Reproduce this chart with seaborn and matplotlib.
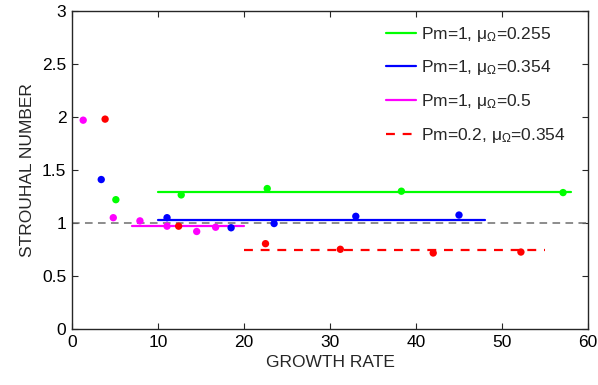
import matplotlib
matplotlib.use("Agg")
import matplotlib.pyplot as plt
import seaborn as sns
import pandas as pd

# Simulation runs: growth rate vs. Strouhal number
green_x = [5.1, 12.7, 22.7, 38.3, 57.1]
green_y = [1.22, 1.265, 1.325, 1.30, 1.287]
blue_x = [3.4, 11.05, 18.5, 23.5, 33.0, 45.0]
blue_y = [1.41, 1.05, 0.955, 0.995, 1.063, 1.075]
magenta_x = [1.3, 4.8, 7.9, 11.05, 14.5, 16.7]
magenta_y = [1.97, 1.05, 1.02, 0.97, 0.92, 0.96]
red_x = [3.85, 12.4, 22.5, 31.2, 42.0, 52.2]
red_y = [1.98, 0.97, 0.805, 0.752, 0.717, 0.726]

# Mean Strouhal level over the saturated range of each series
green_fit = ([10, 58], [1.293, 1.293])
blue_fit = ([10, 48], [1.025, 1.025])
magenta_fit = ([7, 20], [0.97, 0.97])
red_fit = ([20, 55], [0.75, 0.75])

labels = [r"Pm=1, $\mu_{\Omega}$=0.255",
          r"Pm=1, $\mu_{\Omega}$=0.354",
          r"Pm=1, $\mu_{\Omega}$=0.5",
          r"Pm=0.2, $\mu_{\Omega}$=0.354"]
colors = ["#00ff00", "#0000ff", "#ff00ff", "#ff0000"]

sns.set_theme(style="white")
plt.rcParams["font.family"] = ["Liberation Sans", "DejaVu Sans"]
plt.rcParams["mathtext.fontset"] = "custom"
plt.rcParams["mathtext.rm"] = "Liberation Sans"
plt.rcParams["mathtext.it"] = "Liberation Sans"

fig = plt.figure(figsize=(5.98, 3.85), dpi=100)
ax = fig.add_axes([72 / 598, 1 - 329 / 385, 516 / 598, 318 / 385])

# reference level St = 1
ref = pd.DataFrame({"x": [0, 60], "y": [1, 1]})
sns.lineplot(data=ref, x="x", y="y", ax=ax, color="#6e6e6e", lw=1.1,
             dashes=False, linestyle=(0, (5, 3.5)), zorder=1)

fits = [green_fit, blue_fit, magenta_fit, red_fit]
styles = ["-", "-", "-", (0, (4, 3.5))]
for (fx, fy), c, ls, lab in zip(fits, colors, styles, labels):
    df = pd.DataFrame({"x": fx, "y": fy})
    sns.lineplot(data=df, x="x", y="y", ax=ax, color=c, lw=1.6,
                 linestyle=ls, label=lab, zorder=2)

pts = [(green_x, green_y), (blue_x, blue_y), (magenta_x, magenta_y), (red_x, red_y)]
for (px, py), c in zip(pts, colors):
    df = pd.DataFrame({"x": px, "y": py})
    sns.scatterplot(data=df, x="x", y="y", ax=ax, color=c, s=28,
                    edgecolor="none", linewidth=0, zorder=3)

ax.set_xlim(0, 60)
ax.set_ylim(0, 3)
ax.set_xticks(range(0, 61, 10))
ax.set_yticks([0, 0.5, 1, 1.5, 2, 2.5, 3])
ax.set_yticklabels(["0", "0.5", "1", "1.5", "2", "2.5", "3"])
ax.set_xlabel("GROWTH RATE", fontsize=12.5, labelpad=4)
ax.set_ylabel("STROUHAL NUMBER", fontsize=12.5, labelpad=5)
ax.tick_params(direction="in", length=4, width=0.8, colors="#262626",
               labelcolor="black", labelsize=12.5, top=True, right=True,
               bottom=True, left=True, pad=4)
for sp in ax.spines.values():
    sp.set_color("#262626")
    sp.set_linewidth(1.0)

ax.legend(loc="upper right", frameon=False, fontsize=12.5,
          handlelength=1.7, handletextpad=0.3, labelspacing=0.85,
          borderaxespad=0.3, bbox_to_anchor=(0.98, 0.995))

fig.savefig("out.png", dpi=100)
